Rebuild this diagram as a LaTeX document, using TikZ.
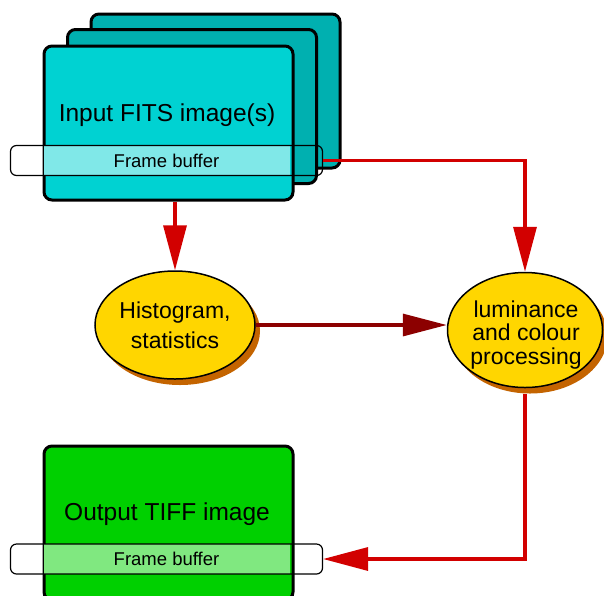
\documentclass[tikz,border=0pt]{standalone}
\usepackage{fontspec}
\setmainfont{Liberation Sans}
\usetikzlibrary{arrows.meta,shapes.geometric,shadows}
\definecolor{cardfront}{RGB}{0,210,210}
\definecolor{cardback}{RGB}{0,176,176}
\definecolor{fbcyan}{RGB}{128,232,232}
\definecolor{cardgreen}{RGB}{0,208,0}
\definecolor{fbgreen}{RGB}{128,232,128}
\definecolor{ellyellow}{RGB}{255,214,0}
\definecolor{ellshadow}{RGB}{196,100,0}
\definecolor{arrred}{RGB}{210,0,0}
\definecolor{arrdark}{RGB}{140,0,0}
\begin{document}
\begin{tikzpicture}[x=1pt,y=-1pt,
  card/.style={draw=black,line width=3pt,rounded corners=8pt,minimum width=249pt,minimum height=154pt,inner sep=0pt,anchor=north west},
  fbfill/.style={fill=#1,minimum width=246pt,minimum height=30pt,inner sep=0pt},
  fbframe/.style={draw=black,line width=1.2pt,rounded corners=6pt,minimum width=312pt,minimum height=30pt,inner sep=0pt,font=\fontsize{18.5}{20}\selectfont},
  title/.style={inner sep=0pt,font=\fontsize{24.5}{26}\selectfont},
  ell/.style={ellipse,draw=black,line width=1.5pt,fill=ellyellow,inner sep=0pt,
    drop shadow={shadow xshift=5pt,shadow yshift=-6pt,fill=ellshadow,opacity=1}},
  elltext/.style={align=center,inner sep=0pt},
  flow/.style={line width=3.3pt,draw=arrred,-{Triangle[length=45pt,width=23pt]}},
  flowdark/.style={line width=3.3pt,draw=arrdark,-{Triangle[length=44pt,width=22pt]}}
]
\useasboundingbox (0,0) rectangle (604,595);
\clip (0,0) rectangle (604,595);
% input stack
\node[card,fill=cardback] (back) at (89.5,12.5) {};
\node[card,fill=cardback] (mid) at (66,28) {};
\node[card,fill=cardfront] (front) at (42.5,44.5) {};
\node[fbfill=fbcyan] (fb1fill) at (167,160.5) {};
\node[fbframe] (fb1) at (166.5,160.5) {Frame buffer};
\node[title] (intitle) at (167,115) {Input FITS image(s)};
% output
\node[card,fill=cardgreen] (out) at (42.5,444.5) {};
\node[fbfill=fbgreen] (fb2fill) at (167,559) {};
\node[fbframe] (fb2) at (166.5,559) {Frame buffer};
\node[title] (outtitle) at (167,514) {Output TIFF image};
% ellipses
\node[ell,minimum width=160pt,minimum height=108pt] (hist) at (175,325) {};
\node[elltext,font=\fontsize{23}{30}\selectfont] (histtext) at (175,325) {Histogram,\\statistics};
\node[ell,minimum width=155pt,minimum height=115pt] (lum) at (525,330) {};
\node[elltext,font=\fontsize{23}{23.5}\selectfont] (lumtext) at (526,335) {luminance\\and colour\\processing};
% connectors
\draw[flow] (front.south -| hist.north) -- (hist.north);
\draw[flow] (fb1.east) -| (lum.north);
\draw[flowdark] (hist.east) -- (hist.east -| lum.west);
\draw[flow,shorten <=6pt] (lum.south) |- (fb2.east);
\end{tikzpicture}
\end{document}
